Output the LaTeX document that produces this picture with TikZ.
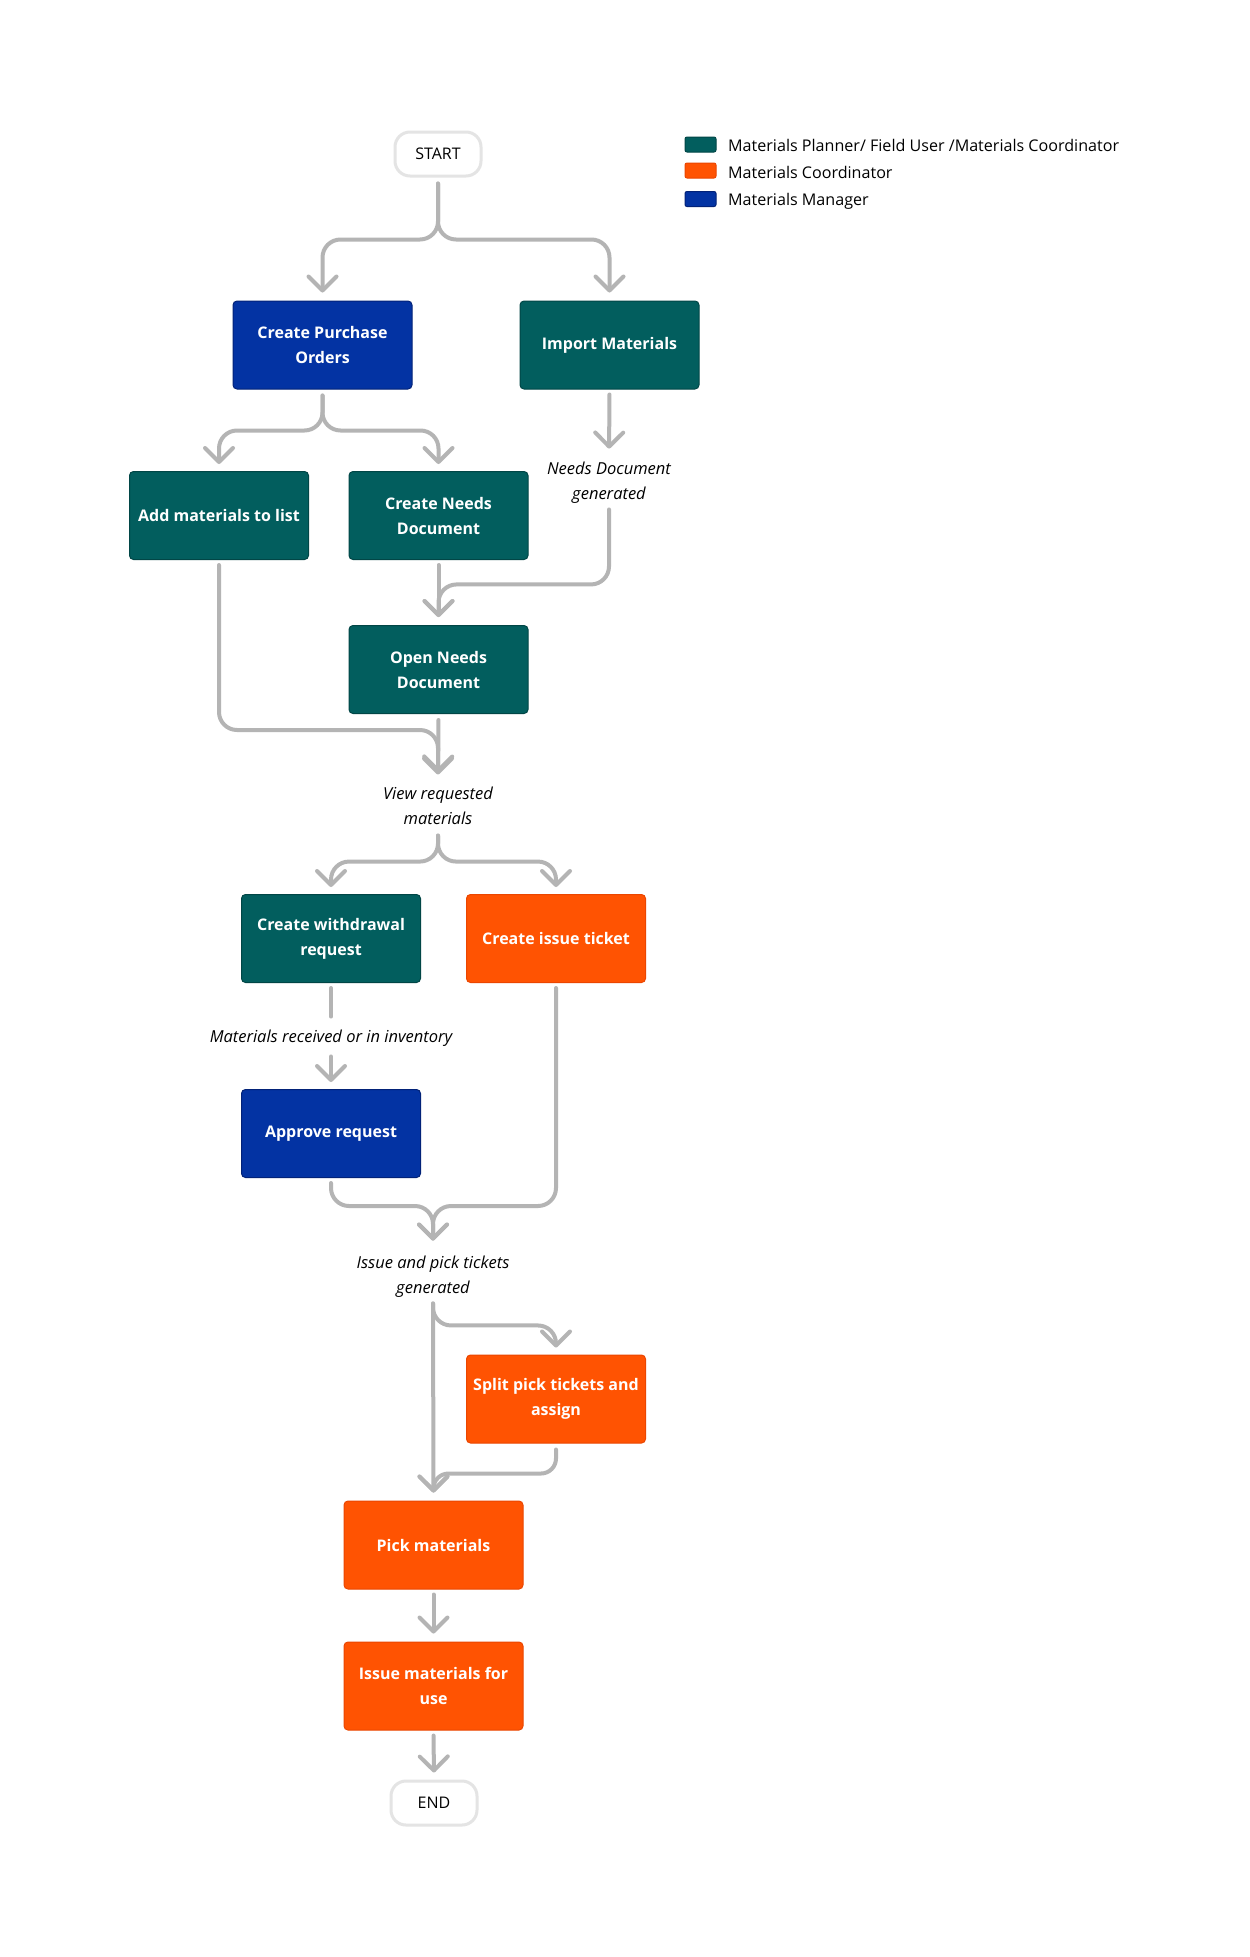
\documentclass[tikz,border=0pt]{standalone}
\usepackage{fontspec}
\setmainfont{Open Sans}
\usetikzlibrary{arrows.meta}
\definecolor{tealc}{RGB}{2,94,94}
\definecolor{tealb}{RGB}{1,70,70}
\definecolor{bluec}{RGB}{3,51,163}
\definecolor{blueb}{RGB}{2,34,120}
\definecolor{orangec}{RGB}{255,83,2}
\definecolor{orangeb}{RGB}{235,70,0}
\definecolor{conncol}{RGB}{180,180,180}
\definecolor{termcol}{RGB}{228,228,228}
\tikzset{
  box/.style={rounded corners=4pt, minimum width=179pt, minimum height=88pt, align=center,
    text=white, line width=1pt, inner sep=0pt,
    font=\bfseries\fontsize{16}{25}\selectfont},
  tealbox/.style={box, fill=tealc, draw=tealb},
  bluebox/.style={box, fill=bluec, draw=blueb},
  orangebox/.style={box, fill=orangec, draw=orangeb},
  term/.style={rounded corners=15pt, minimum width=86pt, minimum height=44pt, draw=termcol,
    line width=3pt, fill=white, font=\fontsize{16}{20}\selectfont, inner sep=0pt},
  lbl/.style={align=center, inner sep=0pt, font=\itshape\fontsize{16.5}{25}\selectfont},
  conn/.style={draw=conncol, line width=4pt, rounded corners=18pt, line cap=round, line join=round},
  arr/.style={conn, -{Straight Barb[length=14pt, width=28pt, line cap=round, line join=round]}},
  swatch/.style={rounded corners=2pt, minimum width=31pt, minimum height=15pt, inner sep=0pt, line width=1pt},
  legtext/.style={anchor=west, inner sep=0pt, font=\fontsize{16.1}{20}\selectfont}
}
\begin{document}
\begin{tikzpicture}[x=1pt, y=-1pt]
\useasboundingbox[fill=white] (0,0) rectangle (1250,1957);

% legend
\node[swatch, fill=tealc, draw=tealb] (sw1) at (700.5,144.5) {};
\node[swatch, fill=orangec, draw=orangeb] (sw2) at (700.5,170.5) {};
\node[swatch, fill=bluec, draw=blueb] (sw3) at (700.5,199) {};
\node[legtext] (lg1) at (728,145) {Materials Planner/ Field User /Materials Coordinator};
\node[legtext] (lg2) at (728,172) {Materials Coordinator};
\node[legtext] (lg3) at (728,201) {Materials Manager};

% nodes
\node[term] (start) at (438,154) {START};
\node[bluebox] (cpo) at (322.5,345) {Create Purchase\\Orders};
\node[tealbox] (imp) at (609.5,345) {Import Materials};
\node[tealbox] (add) at (219,515.5) {Add materials to list};
\node[tealbox] (cnd) at (438.5,515.5) {Create Needs\\Document};
\node[lbl] (ndg) at (609,482.5) {Needs Document\\generated};
\node[tealbox] (open) at (438.5,669.5) {Open Needs\\Document};
\node[lbl] (view) at (438,805.5) {View requested\\materials};
\node[tealbox] (wd) at (331,938.5) {Create withdrawal\\request};
\node[orangebox] (cit) at (556,938.5) {Create issue ticket};
\node[lbl] (mri) at (331,1038) {Materials received or in inventory};
\node[bluebox] (appr) at (331,1133.5) {Approve request};
\node[lbl] (ipt) at (433,1276.5) {Issue and pick tickets\\generated};
\node[orangebox] (split) at (556,1399) {Split pick tickets and\\assign};
\node[orangebox] (pick) at (433.5,1545) {Pick materials};
\node[orangebox] (iss) at (433.5,1686) {Issue materials for\\use};
\node[term] (end) at (434,1803) {END};

% connectors
\draw[arr, shorten <=6pt, shorten >=8pt] (start.south) -- ++(0,62) -| (cpo.north);
\draw[arr, shorten <=6pt, shorten >=8pt] (start.south) -- ++(0,62) -| (imp.north);
\draw[arr, shorten <=6pt, shorten >=7pt] (cpo.south) -- ++(0,41) -| (add.north);
\draw[arr, shorten <=6pt, shorten >=7pt] (cpo.south) -- ++(0,41) -| (cnd.north);
\draw[arr, shorten <=5pt, shorten >=13pt] (imp.south) -- (ndg.north);
\draw[arr, shorten <=6pt, shorten >=8pt] (ndg.south) -- ++(0,81) -| (open.north);
\draw[arr, shorten <=5pt, shorten >=8pt] (cnd.south) -- (open.north);
\draw[arr, shorten <=5pt, shorten >=12pt] (add.south) -- ++(0,170) -| (view.north);
\draw[arr, shorten <=6pt, shorten >=14pt] (open.south) -- (view.north);
\draw[arr, shorten <=11pt, shorten >=7pt] (view.south) -- ++(0,37) -| (wd.north);
\draw[arr, shorten <=11pt, shorten >=7pt] (view.south) -- ++(0,37) -| (cit.north);
\draw[conn, shorten <=5pt, shorten >=13pt] (wd.south) -- (mri.north);
\draw[arr, shorten <=10pt, shorten >=7pt] (mri.south) -- (appr.north);
\draw[arr, shorten <=5pt, shorten >=15pt] (appr.south) -- ++(0,28) -| (ipt.north);
\draw[arr, shorten <=5pt, shorten >=15pt] (cit.south) -- ++(0,223) -| (ipt.north);
\draw[arr, shorten <=6pt, shorten >=8pt] (ipt.south) -- (pick.north);
\draw[arr, shorten <=6pt, shorten >=7pt] (ipt.south) -- ++(0,28) -| (split.north);
\draw[arr, rounded corners=15pt, shorten <=6pt, shorten >=8pt] (split.south) -- ++(0,30) -| (pick.north);
\draw[arr, shorten <=5pt, shorten >=8pt] (pick.south) -- (iss.north);
\draw[arr, shorten <=5pt, shorten >=7pt] (iss.south) -- (end.north);
\end{tikzpicture}
\end{document}
